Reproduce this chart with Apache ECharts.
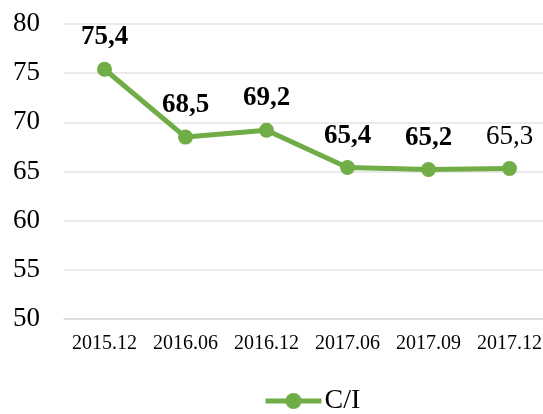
<!DOCTYPE html>
<html>
<head>
<meta charset="utf-8">
<script src="https://cdn.jsdelivr.net/npm/echarts@6/dist/echarts.min.js"></script>
<style>html,body{margin:0;padding:0;background:#fff;}#c{width:543px;height:414px;}</style>
</head>
<body>
<div id="c"></div>
<script>
const categories = ['2015.12','2016.06','2016.12','2017.06','2017.09','2017.12'];
const ciValues = [75.4, 68.5, 69.2, 65.4, 65.2, 65.3];
const yTicks = [50, 55, 60, 65, 70, 75, 80];
const seriesName = 'C/I';

const FONT = "'Liberation Serif','Times New Roman',serif";
const GREEN = '#70AD47';
const normalLabelIndex = ciValues.length - 1;

const chart = echarts.init(document.getElementById('c'));
chart.setOption({
  animation: false,
  grid: { left: 64, top: 24, width: 486, height: 295, outerBoundsMode: 'none', containLabel: false },
  legend: {
    bottom: -6, left: 258,
    itemWidth: 56, itemHeight: 20, itemGap: 4,
    lineStyle: { width: 5 },
    textStyle: { fontFamily: FONT, fontSize: 28, color: '#000', padding: [0, 0, 0, -2] },
    data: [seriesName]
  },
  xAxis: {
    type: 'category', data: categories, boundaryGap: true,
    axisLine: { lineStyle: { color: '#d9d9d9', width: 1.5 } },
    axisTick: { show: false },
    axisLabel: { fontFamily: FONT, fontSize: 20, color: '#000', margin: 15, interval: 0 }
  },
  yAxis: {
    type: 'value', min: yTicks[0], max: yTicks[yTicks.length-1], interval: 5,
    axisLine: { show: false }, axisTick: { show: false },
    splitLine: { lineStyle: { color: '#e3e3e3', width: 1.5 } },
    axisLabel: { fontFamily: FONT, fontSize: 27, color: '#000', margin: 24 }
  },
  series: [{
    name: seriesName, type: 'line',
    data: ciValues.map((v, i) => ({
      value: v,
      label: { fontWeight: i === normalLabelIndex ? 'normal' : 'bold' }
    })),
    symbol: 'circle', symbolSize: 15,
    lineStyle: { color: GREEN, width: 5 },
    itemStyle: { color: GREEN },
    label: {
      show: true, position: 'top', distance: 11,
      fontFamily: FONT, fontSize: 27, color: '#000',
      formatter: p => String(p.value.toFixed(1)).replace('.', ',')
    }
  }]
});
</script>
</body>
</html>
